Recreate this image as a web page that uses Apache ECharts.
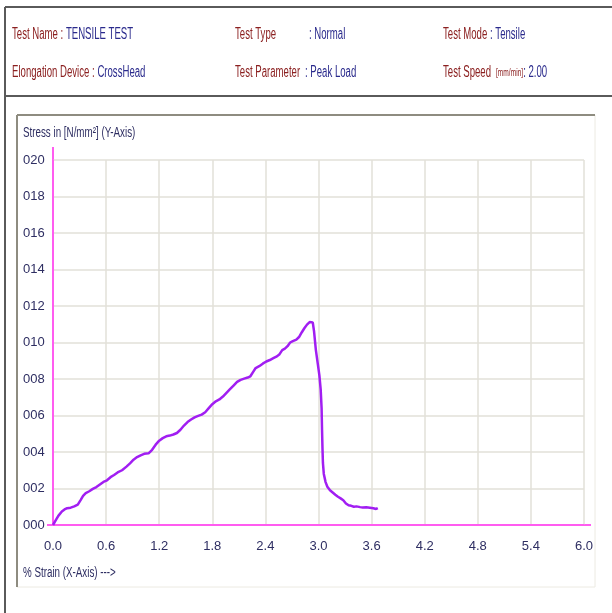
<!DOCTYPE html>
<html>
<head>
<meta charset="utf-8">
<script src="https://cdn.jsdelivr.net/npm/echarts@6/dist/echarts.min.js"></script>
<style>
html,body{margin:0;padding:0;background:#fff;}
#chart{width:612px;height:613px;}
</style>
</head>
<body>
<div id="chart"></div>
<script>
// ---- data ----
const strain = [0.00,0.03,0.06,0.10,0.13,0.16,0.20,0.24,0.28,0.31,0.34,0.37,0.41,0.45,0.49,0.53,0.57,0.61,0.65,0.69,0.73,0.78,0.83,0.87,0.91,0.95,0.99,1.03,1.08,1.12,1.16,1.20,1.24,1.28,1.32,1.36,1.40,1.44,1.48,1.52,1.56,1.60,1.64,1.68,1.72,1.76,1.80,1.84,1.88,1.92,1.96,2.00,2.04,2.08,2.12,2.16,2.20,2.23,2.26,2.29,2.33,2.37,2.41,2.45,2.49,2.53,2.56,2.59,2.62,2.65,2.68,2.71,2.75,2.78,2.81,2.84,2.87,2.90,2.92,2.935,2.95,2.97,2.99,3.01,3.025,3.035,3.04,3.045,3.05,3.06,3.08,3.10,3.13,3.16,3.19,3.22,3.25,3.28,3.31,3.34,3.37,3.40,3.43,3.47,3.50,3.54,3.58,3.62,3.65,3.67];
const stress = [0.00,0.25,0.50,0.74,0.85,0.92,0.95,1.02,1.12,1.35,1.60,1.75,1.85,1.98,2.08,2.22,2.36,2.45,2.62,2.74,2.88,3.00,3.20,3.38,3.58,3.72,3.82,3.90,3.93,4.12,4.40,4.62,4.76,4.86,4.90,4.96,5.04,5.22,5.45,5.64,5.78,5.90,5.98,6.05,6.18,6.40,6.62,6.78,6.88,7.04,7.24,7.44,7.64,7.84,7.95,8.02,8.08,8.15,8.38,8.60,8.70,8.84,8.96,9.04,9.14,9.24,9.36,9.58,9.66,9.80,10.00,10.08,10.16,10.30,10.55,10.78,10.98,11.12,11.18,11.10,10.6,9.6,8.9,8.2,7.4,6.4,5.2,4.2,3.4,2.8,2.35,2.10,1.90,1.78,1.66,1.55,1.46,1.36,1.18,1.08,1.05,1.00,1.02,0.98,0.96,0.97,0.95,0.92,0.88,0.93];
const xTickLabels = ['0.0','0.6','1.2','1.8','2.4','3.0','3.6','4.2','4.8','5.4','6.0'];
const yTickLabels = ['000','002','004','006','008','010','012','014','016','018','020'];

const FONT = '"Liberation Sans", sans-serif';
const RED = '#8b2020';
const BLUE = '#2a2a8c';
const NAVY = '#2e2e62';
const MAG = '#ff5cf0';

const chart = echarts.init(document.getElementById('chart'), null, {renderer:'canvas'});

const rich = {
  l:{fontFamily:FONT, fontSize:16, fill:RED, color:RED},
  v:{fontFamily:FONT, fontSize:16, fill:BLUE, color:BLUE},
  u:{fontFamily:FONT, fontSize:11, fill:RED, color:RED}
};
function txt(x, y, text, sx, extra){
  return Object.assign({type:'text', x:x, y:y, scaleX:sx, scaleY:1, z:10,
    style:Object.assign({text:text, rich:rich, font:'16px '+FONT, fill:RED, verticalAlign:'middle', align:'left'}, extra||{})});
}
const SX = 0.6;

const graphic = [
  // outer frame
  {type:'line', shape:{x1:5,y1:7,x2:612,y2:7}, style:{stroke:'#5a5a5a', lineWidth:2}},
  {type:'line', shape:{x1:5,y1:7,x2:5,y2:613}, style:{stroke:'#5a5a5a', lineWidth:2}},
  {type:'line', shape:{x1:5,y1:96,x2:612,y2:96}, style:{stroke:'#5a5a5a', lineWidth:2}},
  // chart panel
  {type:'rect', shape:{x:17,y:115,width:578,height:472}, style:{fill:'#fff', stroke:'#eceae2', lineWidth:1}, z:-1},
  {type:'line', shape:{x1:17,y1:115,x2:595,y2:115}, style:{stroke:'#8e8c80', lineWidth:2}},
  {type:'line', shape:{x1:17,y1:115,x2:17,y2:587}, style:{stroke:'#8e8c80', lineWidth:2}},
  // header texts
  txt(12, 35, '{l|Test Name : }{v|TENSILE TEST}', SX),
  txt(235, 35, '{l|Test Type}', SX),
  txt(309, 35, '{v|: Normal}', SX),
  txt(443, 35, '{l|Test Mode}', SX),
  txt(490, 35, '{v|: Tensile}', SX),
  txt(12, 73, '{l|Elongation Device : }{v|CrossHead}', SX),
  txt(235, 73, '{l|Test Parameter}', SX),
  txt(305, 73, '{v|: Peak Load}', SX),
  txt(443, 73, '{l|Test Speed}', SX),
  txt(496, 73, '{u|[mm/min]}{v|: 2.00}', SX),
  // axis titles
  txt(23, 133, 'Stress in [N/mm²] (Y-Axis)', 0.7, {font:'14px '+FONT, fill:NAVY, rich:null}),
  txt(23, 573, '% Strain (X-Axis) --->', 0.7, {font:'14px '+FONT, fill:NAVY, rich:null}),
  // axis line overshoots
  {type:'line', shape:{x1:53,y1:147,x2:53,y2:160}, style:{stroke:MAG, lineWidth:2}},
  {type:'line', shape:{x1:47,y1:525,x2:53,y2:525}, style:{stroke:MAG, lineWidth:2}},
  {type:'line', shape:{x1:584,y1:525,x2:591,y2:525}, style:{stroke:MAG, lineWidth:2}}
];

const option = {
  animation:false,
  backgroundColor:'#fff',
  grid:{left:53, right:28, top:160, bottom:88, containLabel:false},
  xAxis:{
    type:'value', min:0, max:6, interval:0.6,
    axisLine:{show:true, onZero:false, lineStyle:{color:MAG, width:2}},
    axisTick:{show:false},
    splitLine:{show:true, lineStyle:{color:'#e2e0d8', width:1.5}},
    axisLabel:{margin:15, color:NAVY, fontFamily:FONT, fontSize:13,
      formatter:(v)=>xTickLabels[Math.round(v/0.6)]}
  },
  yAxis:{
    type:'value', min:0, max:20, interval:2,
    axisLine:{show:true, onZero:false, lineStyle:{color:MAG, width:2}},
    axisTick:{show:false},
    splitLine:{show:true, lineStyle:{color:'#e2e0d8', width:1.5}},
    axisLabel:{margin:30, align:'left', color:NAVY, fontFamily:FONT, fontSize:13,
      formatter:(v)=>yTickLabels[Math.round(v/2)]}
  },
  series:[{
    type:'line', showSymbol:false, smooth:false,
    data: strain.map((x,i)=>[x, stress[i]]),
    lineStyle:{color:'#a11ef2', width:2.5},
    z:5
  }],
  graphic: graphic
};
chart.setOption(option);
</script>
</body>
</html>
